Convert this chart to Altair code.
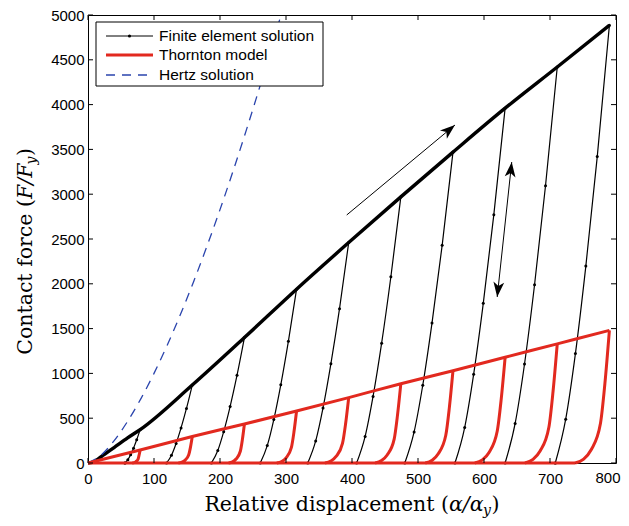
import altair as alt
import pandas as pd

# ---------------- data ----------------
x_ticks = [0, 100, 200, 300, 400, 500, 600, 700, 800]
y_ticks = [0, 500, 1000, 1500, 2000, 2500, 3000, 3500, 4000, 4500, 5000]

# Finite element solution: loading branch
fe_load_x = [0, 8, 20, 40, 60, 79, 158, 237, 316, 395, 474, 553, 632, 711, 790]
fe_load_F = [0, 10, 70, 175, 280, 372, 870, 1400, 1940, 2460, 2970, 3470, 3960, 4420, 4885]

# Finite element solution: unloading branches
fe_unload_x = [
    [56, 60.4, 64.6, 69.0, 73.8, 79],
    [119, 126.5, 133.5, 141.0, 149.2, 158],
    [187, 196.7, 205.6, 215.3, 225.8, 237],
    [261, 271.6, 281.5, 292.1, 303.6, 316],
    [333, 345.0, 356.1, 368.0, 381.1, 395],
    [407, 419.9, 431.9, 444.9, 458.9, 474],
    [480, 494.1, 507.2, 521.2, 536.6, 553],
    [556, 570.7, 584.3, 598.9, 614.9, 632],
    [632, 647.2, 661.4, 676.6, 693.2, 711],
    [708, 723.8, 738.5, 754.3, 771.6, 790],
]
fe_unload_F = [
    [0, 37, 92, 166, 259, 372],
    [0, 87, 218, 392, 609, 870],
    [0, 140, 350, 630, 980, 1400],
    [0, 194, 485, 873, 1358, 1940],
    [0, 246, 615, 1107, 1722, 2460],
    [0, 297, 743, 1337, 2079, 2970],
    [0, 347, 868, 1562, 2429, 3470],
    [0, 396, 990, 1782, 2772, 3960],
    [0, 442, 1105, 1989, 3094, 4420],
    [0, 489, 1221, 2198, 3420, 4885],
]
fe_base_x = [56, 708]
fe_base_F = [0, 0]

# Thornton model
th_load_x = [0, 79, 158, 237, 316, 395, 474, 553, 632, 711, 790]
th_load_F = [0, 145, 295, 435, 580, 730, 885, 1030, 1180, 1330, 1480]
th_unload_x = [
    [67, 70, 72.6, 75.9, 77.4, 79],
    [137, 142.3, 146.9, 152.5, 155.3, 158],
    [213, 219, 224.3, 230.8, 233.9, 237],
    [286, 293.5, 300.1, 308.2, 312.1, 316],
    [359, 368, 375.9, 385.6, 390.3, 395],
    [435, 444.8, 453.3, 463.9, 468.9, 474],
    [511, 521.5, 530.7, 542.1, 547.5, 553],
    [586, 597.5, 607.6, 620, 626, 632],
    [662, 674.3, 685, 698.3, 704.6, 711],
    [738, 751, 762.4, 776.5, 783.2, 790],
]
th_unload_F = [
    [0, 4, 15, 44, 87, 145],
    [0, 9, 30, 89, 177, 295],
    [0, 13, 44, 131, 261, 435],
    [0, 17, 58, 174, 348, 580],
    [0, 22, 73, 219, 438, 730],
    [0, 27, 89, 266, 531, 885],
    [0, 31, 103, 309, 618, 1030],
    [0, 35, 118, 354, 708, 1180],
    [0, 40, 133, 399, 798, 1330],
    [0, 44, 148, 444, 888, 1480],
]
th_base_x = [0, 738]
th_base_F = [0, 0]

# Hertz solution
hertz_x = [0, 20, 40, 60, 80, 100, 120, 140, 160, 180, 200, 220, 240, 260, 280, 292.4]
hertz_F = [0, 89, 253, 465, 716, 1000, 1315, 1657, 2024, 2415, 2828, 3263, 3718, 4192, 4685, 5000]

# Annotation arrows (start -> end in data units)
arrow_x0 = [392, 620]
arrow_F0 = [2768, 1853]
arrow_x1 = [556, 642]
arrow_F1 = [3772, 3359]
head_x = [556, 642, 620]
head_F = [3772, 3359, 1853]
head_angle = [50.3, 6.1, 186.1]

legend_labels = ["Finite element solution", "Thornton model", "Hertz solution"]

# ---------------- build tables ----------------
def curves(xs_list, fs_list, prefix):
    rows = []
    for i, (xs, fs) in enumerate(zip(xs_list, fs_list)):
        for j, (a, b) in enumerate(zip(xs, fs)):
            rows.append({"x": a, "F": b, "curve": f"{prefix}{i}", "ord": j})
    return pd.DataFrame(rows)

fe_load_df = curves([fe_load_x], [fe_load_F], "fl")
fe_un_df = curves(fe_unload_x + [fe_base_x], fe_unload_F + [fe_base_F], "fu")
th_df = curves([th_load_x] + th_unload_x + [th_base_x],
               [th_load_F] + th_unload_F + [th_base_F], "th")
hz_df = curves([hertz_x], [hertz_F], "hz")
arrows_df = pd.DataFrame({"x0": arrow_x0, "y0": arrow_F0, "x1": arrow_x1, "y1": arrow_F1})
heads_df = pd.DataFrame({"x": head_x, "F": head_F, "ang": head_angle})
xt_df = pd.DataFrame({"t": x_ticks})
yt_df = pd.DataFrame({"t": y_ticks})
one = pd.DataFrame({"d": [0]})

W, H = 528, 448
RED = "#e2291f"
BLUE = "#2a44ad"
LABEL_FONT = "Liberation Sans"

xs = alt.Scale(domain=[0, 800], nice=False, zero=False)
ys = alt.Scale(domain=[0, 5000], nice=False, zero=False)
xaxis = alt.Axis(values=x_ticks, ticks=False, domain=False, grid=False, title=None, format="d",
                 labelPadding=8, labelFlush=False,
                 labelExpr="datum.value == 800 ? '' : datum.label")
yaxis = alt.Axis(values=y_ticks, ticks=False, domain=False, grid=False, title=None, format="d",
                 labelPadding=4, labelFlush=False)
X = alt.X("x:Q", scale=xs, axis=xaxis)
Y = alt.Y("F:Q", scale=ys, axis=yaxis)

fe_unload_lines = alt.Chart(fe_un_df).mark_line(color="black", strokeWidth=1.2, interpolate="monotone").encode(
    x=X, y=Y, detail="curve:N", order="ord:Q")
fe_points = alt.Chart(fe_un_df).mark_point(filled=True, color="black", size=9, opacity=1).encode(x=X, y=Y)
fe_load_line = alt.Chart(fe_load_df).mark_line(color="black", strokeWidth=3.4, interpolate="monotone").encode(
    x=X, y=Y, order="ord:Q")
hertz = alt.Chart(hz_df).mark_line(color=BLUE, strokeWidth=1.3, strokeDash=[9, 7], interpolate="monotone").encode(
    x=X, y=Y, order="ord:Q")
thornton = alt.Chart(th_df).mark_line(color=RED, strokeWidth=3, interpolate="monotone").encode(
    x=X, y=Y, detail="curve:N", order="ord:Q")

arrow_lines = alt.Chart(arrows_df).mark_rule(color="black", strokeWidth=1).encode(
    x=alt.X("x0:Q", scale=xs, axis=xaxis), x2="x1:Q",
    y=alt.Y("y0:Q", scale=ys, axis=yaxis), y2="y1:Q")
arrow_heads = alt.Chart(heads_df).mark_point(
    shape="M0,0 L0.36,1 L0,0.74 L-0.36,1 Z", filled=True, color="black", size=900, opacity=1
).encode(x=X, y=Y, angle=alt.Angle("ang:Q", scale=None))

# inward ticks on all four sides
tx = alt.X("t:Q", scale=xs, axis=xaxis)
ty = alt.Y("t:Q", scale=ys, axis=yaxis)
tick_b = alt.Chart(xt_df).mark_rule(color="black", strokeWidth=1).encode(x=tx, y=alt.value(H), y2=alt.value(H - 5))
tick_t = alt.Chart(xt_df).mark_rule(color="black", strokeWidth=1).encode(x=tx, y=alt.value(0), y2=alt.value(5))
tick_l = alt.Chart(yt_df).mark_rule(color="black", strokeWidth=1).encode(y=ty, x=alt.value(0), x2=alt.value(5))
tick_r = alt.Chart(yt_df).mark_rule(color="black", strokeWidth=1).encode(y=ty, x=alt.value(W), x2=alt.value(W - 5))

# last x tick label, kept inside the page edge
last_label = alt.Chart(one).mark_text(text=str(x_ticks[-1]), align="right", baseline="top",
                                      font=LABEL_FONT, fontSize=15, color="black").encode(
    x=alt.value(W + 4.5), y=alt.value(H + 8))

# legend
leg_box = alt.Chart(one).mark_rect(fill="white", stroke="black", strokeWidth=1).encode(
    x=alt.value(8), x2=alt.value(235), y=alt.value(7), y2=alt.value(71))
rows_y = [21, 40, 60]
leg_fe = alt.Chart(one).mark_rule(color="black", strokeWidth=1).encode(
    x=alt.value(18), x2=alt.value(65), y=alt.value(rows_y[0]))
leg_fe_dot = alt.Chart(one).mark_point(filled=True, color="black", size=10, opacity=1).encode(
    x=alt.value(41.5), y=alt.value(rows_y[0]))
leg_th = alt.Chart(one).mark_rule(color=RED, strokeWidth=3).encode(
    x=alt.value(18), x2=alt.value(65), y=alt.value(rows_y[1]))
leg_hz = alt.Chart(one).mark_rule(color=BLUE, strokeWidth=1.3, strokeDash=[9, 7]).encode(
    x=alt.value(18), x2=alt.value(65), y=alt.value(rows_y[2]))
leg_texts = [
    alt.Chart(one).mark_text(text=lab, align="left", baseline="middle", font=LABEL_FONT,
                             fontSize=15.5, color="black").encode(x=alt.value(71), y=alt.value(ry))
    for lab, ry in zip(legend_labels, rows_y)
]

# axis titles (serif, with italic math parts)
SERIF = "DejaVu Serif"
def txt(s, **kw):
    return alt.Chart(one).mark_text(text=s, font=SERIF, color="black", baseline="alphabetic", **kw)

ax_ = 361
ay_ = 496
xt1 = txt("Relative displacement (", align="right", fontSize=20.5).encode(x=alt.value(ax_), y=alt.value(ay_))
xt2 = txt("α/α", align="left", fontSize=20.5, fontStyle="italic").encode(x=alt.value(ax_), y=alt.value(ay_))
xt3 = txt("y", align="left", fontSize=14, fontStyle="italic").encode(x=alt.value(ax_ + 34), y=alt.value(ay_ + 4))
xt4 = txt(")", align="left", fontSize=20.5).encode(x=alt.value(ax_ + 42.5), y=alt.value(ay_))

bx_ = -56
by_ = 184
yt1 = txt("Contact force (", align="right", fontSize=20.5, angle=270).encode(x=alt.value(bx_), y=alt.value(by_))
yt2 = txt("F/F", align="left", fontSize=20.5, fontStyle="italic", angle=270).encode(x=alt.value(bx_), y=alt.value(by_))
yt3 = txt("y", align="left", fontSize=14, fontStyle="italic", angle=270, dx=34.5, dy=4).encode(
    x=alt.value(bx_), y=alt.value(by_))
yt4 = txt(")", align="left", fontSize=20.5, angle=270, dx=43).encode(x=alt.value(bx_), y=alt.value(by_))

chart = alt.layer(
    fe_unload_lines, fe_points, fe_load_line, hertz, thornton,
    arrow_lines, arrow_heads,
    tick_b, tick_t, tick_l, tick_r, last_label,
    leg_box, leg_fe, leg_fe_dot, leg_th, leg_hz, *leg_texts,
    xt1, xt2, xt3, xt4, yt1, yt2, yt3, yt4,
).properties(
    width=W, height=H,
    autosize=alt.AutoSizeParams(type="none"),
    padding={"left": 80, "top": 7, "right": 5, "bottom": 55},
    background="white",
).configure_view(
    stroke="black", strokeWidth=1
).configure_axis(
    labelFont=LABEL_FONT, labelFontSize=15, labelColor="black"
)

chart.save("out.html", embed_options={"renderer": "svg", "actions": False})
